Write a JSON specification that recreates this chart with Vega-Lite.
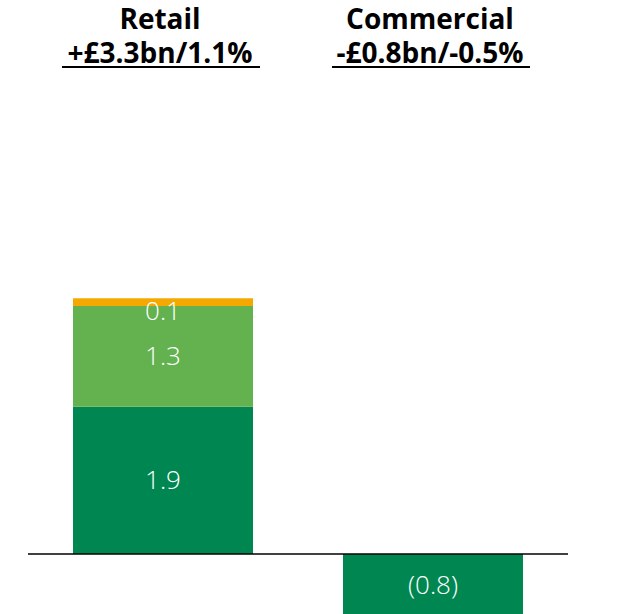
{
  "$schema": "https://vega.github.io/schema/vega-lite/v6.json",
  "width": 540,
  "height": 614,
  "autosize": {"type": "none"},
  "padding": {"left": 28, "top": 0, "right": 58, "bottom": 0},
  "background": "white",
  "config": {"view": {"stroke": null}},
  "datasets": {
    "bars": [
      {"segment": "Retail", "component": "c1", "value": 1.9, "label": "1.9"},
      {"segment": "Retail", "component": "c2", "value": 1.3, "label": "1.3"},
      {"segment": "Retail", "component": "c3", "value": 0.1, "label": "0.1"},
      {"segment": "Commercial", "component": "c1", "value": -0.8, "label": "(0.8)"}
    ],
    "titles": [
      {"segment": "Retail", "title": ["Retail", "+£3.3bn/1.1%"]},
      {"segment": "Commercial", "title": ["Commercial", "-£0.8bn/-0.5%"]}
    ],
    "baseline": [{"zero": 0}]
  },
  "layer": [
    {
      "data": {"name": "bars"},
      "mark": {"type": "bar", "clip": true},
      "encoding": {
        "x": {"field": "segment", "type": "nominal", "sort": ["Retail", "Commercial"], "scale": {"paddingInner": 0.3333, "paddingOuter": 0.1667}, "axis": null},
        "y": {
          "field": "value",
          "type": "quantitative",
          "stack": "zero",
          "scale": {"domain": [-0.774, 7.148], "nice": false, "zero": false},
          "axis": null
        },
        "order": {"field": "component", "sort": "ascending"},
        "color": {
          "field": "component",
          "type": "nominal",
          "scale": {"domain": ["c1", "c2", "c3"], "range": ["#008751", "#63B14F", "#F5A800"]},
          "legend": null
        }
      }
    },
    {
      "data": {"name": "bars"},
      "transform": [
        {"stack": "value", "groupby": ["segment"], "sort": [{"field": "component", "order": "ascending"}], "as": ["v0", "v1"]},
        {"calculate": "(datum.v0 + datum.v1) / 2", "as": "mid"}
      ],
      "layer": [
        {
          "transform": [{"filter": "datum.value < 0 || datum.value >= 0.2"}],
          "mark": {"type": "text", "font": "Open Sans", "fontWeight": 300, "fontSize": 26, "color": "white", "baseline": "middle", "align": "center", "clip": true, "dy": 1},
          "encoding": {
            "x": {"field": "segment", "type": "nominal", "sort": ["Retail", "Commercial"], "axis": null},
            "y": {"field": "mid", "type": "quantitative", "scale": {"domain": [-0.774, 7.148], "nice": false, "zero": false}, "axis": null},
            "text": {"field": "label"}
          }
        },
        {
          "transform": [{"filter": "datum.value >= 0 && datum.value < 0.2"}],
          "mark": {"type": "text", "font": "Open Sans", "fontWeight": 300, "fontSize": 26, "color": "white", "baseline": "middle", "align": "center", "clip": true, "dy": 10},
          "encoding": {
            "x": {"field": "segment", "type": "nominal", "sort": ["Retail", "Commercial"], "axis": null},
            "y": {"field": "mid", "type": "quantitative", "scale": {"domain": [-0.774, 7.148], "nice": false, "zero": false}, "axis": null},
            "text": {"field": "label"}
          }
        }
      ]
    },
    {
      "data": {"name": "baseline"},
      "mark": {"type": "rule", "color": "black", "strokeWidth": 1.5},
      "encoding": {
        "y": {"field": "zero", "type": "quantitative", "scale": {"domain": [-0.774, 7.148], "nice": false, "zero": false}, "axis": null}
      }
    },
    {
      "data": {"name": "titles"},
      "mark": {"type": "text", "font": "Open Sans", "fontWeight": "bold", "fontSize": 28, "lineHeight": 34, "color": "black", "baseline": "alphabetic", "align": "center", "dx": -3},
      "encoding": {
        "x": {"field": "segment", "type": "nominal", "sort": ["Retail", "Commercial"], "axis": null},
        "y": {"datum": 6.77, "type": "quantitative", "scale": {"domain": [-0.774, 7.148], "nice": false, "zero": false}, "axis": null},
        "text": {"field": "title"}
      }
    },
    {
      "data": {"name": "titles"},
      "mark": {"type": "bar", "color": "black", "width": {"band": 1.1}, "xOffset": -2},
      "encoding": {
        "x": {"field": "segment", "type": "nominal", "sort": ["Retail", "Commercial"], "axis": null},
        "y": {"datum": 6.297, "type": "quantitative", "scale": {"domain": [-0.774, 7.148], "nice": false, "zero": false}, "axis": null},
        "y2": {"datum": 6.271}
      }
    }
  ]
}
